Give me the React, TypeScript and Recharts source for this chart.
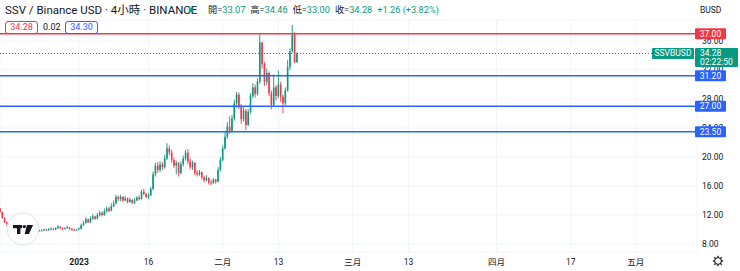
import React from 'react';
import { ComposedChart, Bar, XAxis, YAxis, CartesianGrid, ReferenceLine } from 'recharts';

// Candle times: day offset from 2023-01-01, one candle every half day
const START_DAY = -17;
const STEP_DAYS = 0.5;
const FIRST_OPEN = 12.9;

const closes = [
  12.4, 11.6, 11.0, 10.7, 10.5, 10.3, 10.4, 10.2, 10.1, 10.3, 10.2, 10.0, 10.1, 10.0, 9.9, 10.0, 9.9, 9.8,
  9.9, 10.0, 9.9, 10.0, 10.1, 10.0, 10.2, 10.4, 10.2, 10.1, 10.2, 10.3, 10.1, 10.0, 9.9, 10.0,
  10.1, 10.6, 10.9, 11.4, 11.0, 11.5, 11.8, 11.5, 12.0, 12.3, 12.0, 12.5, 12.9, 12.6, 13.2, 13.6,
  14.5, 14.2, 14.5, 14.0, 14.3, 13.8, 14.1, 13.7, 14.0, 14.4, 14.2, 15.2, 14.9, 14.5, 14.7, 15.6,
  17.6, 18.8, 18.2, 19.0, 18.6, 19.8, 21.2, 20.6, 19.6, 18.8, 19.2, 17.8, 19.0, 19.8, 20.6, 19.4,
  18.6, 19.2, 17.8, 17.6, 17.9, 17.2, 16.8, 17.1, 16.5, 16.4, 16.9, 16.6, 18.2, 19.6, 21.2, 22.8,
  24.2, 23.6, 25.3, 27.4, 28.6, 27.0, 25.2, 26.4, 24.4, 26.2, 28.4, 29.6, 28.7, 30.4, 35.8, 32.8,
  30.4, 31.6, 28.8, 27.2, 29.6, 28.4, 30.0, 28.3, 27.4, 29.2, 32.4, 34.6, 36.9, 33.07, 34.28,
];
const highs = [
  13.0, 12.5, 11.7, 11.1, 10.8, 10.6, 10.6, 10.5, 10.3, 10.4, 10.4, 10.3, 10.2, 10.2, 10.1, 10.1, 10.1, 10.0,
  10.0, 10.1, 10.1, 10.2, 10.3, 10.2, 10.3, 10.6, 10.4, 10.3, 10.3, 10.5, 10.3, 10.2, 10.1, 10.1,
  10.3, 10.8, 11.2, 11.7, 11.5, 11.8, 12.1, 11.9, 12.3, 12.6, 12.5, 12.9, 13.2, 13.1, 13.6, 14.0,
  14.8, 14.7, 14.8, 14.6, 14.6, 14.4, 14.4, 14.2, 14.3, 14.6, 14.7, 15.5, 15.6, 15.0, 15.0, 15.9,
  18.0, 19.2, 19.3, 19.4, 19.3, 20.3, 21.9, 21.6, 21.0, 19.9, 19.5, 19.3, 19.4, 20.2, 21.0, 21.1,
  19.8, 19.5, 19.3, 18.2, 18.2, 18.0, 17.4, 17.5, 17.2, 16.9, 17.1, 17.0, 18.6, 20.0, 21.6, 23.5,
  24.8, 25.6, 25.8, 27.9, 29.0, 28.9, 27.3, 26.9, 26.6, 26.6, 28.8, 30.2, 30.0, 30.8, 36.9, 35.9,
  33.1, 32.2, 31.8, 29.2, 31.4, 29.9, 31.9, 30.4, 28.6, 29.6, 33.4, 35.0, 38.2, 37.2, 34.46,
];
const lows = [
  12.3, 11.5, 10.9, 10.5, 10.3, 10.1, 10.2, 10.0, 9.9, 10.0, 10.0, 9.9, 9.9, 9.8, 9.8, 9.8, 9.8, 9.7,
  9.7, 9.8, 9.8, 9.8, 9.9, 9.9, 9.9, 10.1, 10.0, 9.9, 10.0, 10.1, 9.9, 9.8, 9.8, 9.8,
  9.9, 10.0, 10.5, 10.8, 10.9, 10.9, 11.3, 11.3, 11.4, 11.8, 11.8, 11.9, 12.3, 12.4, 12.5, 13.1,
  13.5, 13.9, 13.9, 13.8, 13.9, 13.6, 13.7, 13.5, 13.5, 13.9, 14.0, 14.1, 14.7, 14.3, 14.2, 14.6,
  15.4, 17.3, 17.8, 17.9, 18.2, 18.4, 19.6, 20.2, 19.2, 18.5, 17.6, 17.3, 17.6, 18.7, 19.5, 19.0,
  18.3, 18.2, 17.5, 17.3, 17.4, 16.9, 16.5, 16.6, 16.2, 16.1, 16.3, 16.3, 16.5, 18.0, 19.4, 21.0,
  22.5, 23.2, 23.4, 25.0, 26.8, 26.6, 24.6, 24.9, 23.7, 24.3, 26.0, 28.1, 28.2, 28.5, 30.1, 32.2,
  29.8, 29.9, 28.4, 26.6, 27.0, 27.8, 28.1, 27.6, 26.0, 27.1, 29.0, 32.0, 34.4, 33.0, 33.0,
];

const xTicks = [0, 15, 31, 43, 59, 71, 90, 106, 120];
const xTickLabels = ['2023', '16', '二月', '13', '三月', '13', '四月', '17', '五月'];
const yTicks = [8, 12, 16, 20, 24, 28, 32, 36];
const redLevels = [37];
const blueLevels = [31.2, 27, 23.5];
const lastPrice = 34.28;
const countdown = '02:22:50';
const symbol = 'SSVBUSD';

const X_DOMAIN: [number, number] = [-17.03, 133.2];
const Y_DOMAIN: [number, number] = [6.8966, 38.8966];

const UP = '#089981';
const DOWN = '#F23645';
const RED = '#F23645';
const BLUE = '#2962FF';
const TEXT = '#131722';
const GRID = '#f2f4f8';
const FONT = 'Roboto, "Noto Sans CJK TC", sans-serif';

const data = closes.map((c, i) => ({
  t: START_DAY + i * STEP_DAYS,
  o: i === 0 ? FIRST_OPEN : closes[i - 1],
  c,
  h: highs[i],
  l: lows[i],
  range: [lows[i], highs[i]],
}));

const Candle = (props: any) => {
  const { x, y, width, height, payload } = props;
  if (!payload || x == null) return null;
  const { o, c, h, l } = payload;
  const yTop = Math.min(y, y + height);
  const yBot = Math.max(y, y + height);
  const span = h - l;
  const py = (p: number) => (span > 0 ? yTop + ((h - p) / span) * (yBot - yTop) : yTop);
  const cx = x + width / 2;
  const color = c >= o ? UP : DOWN;
  const bTop = py(Math.max(o, c));
  const bBot = py(Math.min(o, c));
  return (
    <g>
      <line x1={cx} x2={cx} y1={yTop} y2={yBot} stroke={color} strokeWidth={0.9} />
      <rect x={cx - 0.8} y={bTop} width={1.6} height={Math.max(0.8, bBot - bTop)} fill={color} />
    </g>
  );
};

const XTick = (props: any) => {
  const { x, y, payload } = props;
  const i = xTicks.indexOf(payload.value);
  return (
    <text x={x} y={y} dy={13} textAnchor="middle" fontSize={8.5} fontFamily={FONT}
      fontWeight={i === 0 ? 700 : 400} fill={TEXT}>
      {xTickLabels[i]}
    </text>
  );
};

const YTick = (props: any) => {
  const { x, y, payload } = props;
  return (
    <text x={x + 5} y={y} dy={3} textAnchor="start" fontSize={8.5} fontFamily={FONT} fill={TEXT}>
      {Number(payload.value).toFixed(2)}
    </text>
  );
};

const tagLabel = (value: number, color: string) => (p: any) => {
  const vb = p.viewBox || {};
  const x = vb.x + vb.width - 2;
  const y = vb.y;
  return (
    <g>
      <rect x={x} y={y - 5.5} width={31} height={11} fill={color} rx={1} />
      <text x={x + 15.5} y={y} dy={3} textAnchor="middle" fontSize={8.5} fontFamily={FONT} fill="#fff">
        {value.toFixed(2)}
      </text>
    </g>
  );
};

const lastLabel = (p: any) => {
  const vb = p.viewBox || {};
  const x = vb.x + vb.width - 2;
  const y = vb.y;
  return (
    <g>
      <rect x={x - 43} y={y - 5.5} width={42} height={11} fill={UP} rx={1} />
      <text x={x - 22} y={y} dy={3} textAnchor="middle" fontSize={8.5} fontFamily={FONT} fill="#fff">{symbol}</text>
      <rect x={x} y={y - 5.5} width={43} height={19} fill={UP} rx={1} />
      <text x={x + 5} y={y} dy={3} textAnchor="start" fontSize={8.5} fontFamily={FONT} fill="#fff">{lastPrice.toFixed(2)}</text>
      <text x={x + 5} y={y + 9} dy={3} textAnchor="start" fontSize={8.5} fontFamily={FONT} fill="#fff">{countdown}</text>
    </g>
  );
};

const Gear = () => (
  <svg width={12} height={12} viewBox="-6 -6 12 12" style={{ position: 'absolute', left: 712, top: 255 }}>
    {[0, 45, 90, 135, 180, 225, 270, 315].map((a) => (
      <line key={a} x1={0} y1={-3.2} x2={0} y2={-5.2} stroke={TEXT} strokeWidth={1.3} transform={`rotate(${a})`} />
    ))}
    <circle cx={0} cy={0} r={3.3} fill="#fff" stroke={TEXT} strokeWidth={1.1} />
  </svg>
);

const Logo = () => (
  <svg width={34} height={34} viewBox="0 0 34 34" style={{ position: 'absolute', left: 6, top: 212 }}>
    <circle cx={17} cy={17} r={16} fill="#fff" stroke="#e0e3eb" strokeWidth={1} />
    <rect x={7} y={13} width={9} height={3.2} fill="#131722" />
    <rect x={11} y={13} width={3.4} height={9} fill="#131722" />
    <circle cx={18.3} cy={14.6} r={1.7} fill="#131722" />
    <polygon points="21,13 27,13 23,22 18.6,22" fill="#131722" />
  </svg>
);

export default function App() {
  const green = { color: UP };
  const lbl = { color: TEXT, marginLeft: 5 };
  return (
    <div style={{ position: 'relative', width: 740, height: 271, background: '#fff', fontFamily: FONT, overflow: 'hidden' }}>
      <style>{'body{margin:0}'}</style>
      <ComposedChart width={740} height={271} data={data} margin={{ top: 20, right: 0, bottom: 0, left: 0 }}>
        <CartesianGrid stroke={GRID} strokeWidth={1} />
        <XAxis dataKey="t" type="number" domain={X_DOMAIN} allowDataOverflow ticks={xTicks}
          interval={0} height={19} axisLine={false} tickLine={false} tickSize={0} tickMargin={0} tick={<XTick />} />
        <YAxis orientation="right" type="number" domain={Y_DOMAIN} allowDataOverflow ticks={yTicks}
          interval={0} width={43} axisLine={false} tickLine={false} tickSize={0} tickMargin={0} tick={<YTick />} />
        <Bar dataKey="range" barSize={2} isAnimationActive={false} shape={<Candle />} />
      </ComposedChart>

      {/* overlay layer: price levels and tags drawn above the price scale */}
      <div style={{ position: 'absolute', left: 0, top: 0, pointerEvents: 'none' }}>
        <ComposedChart width={740} height={271} data={data} margin={{ top: 20, right: 43, bottom: 19, left: 0 }}>
          <XAxis dataKey="t" type="number" domain={X_DOMAIN} allowDataOverflow hide />
          <YAxis type="number" domain={Y_DOMAIN} allowDataOverflow hide />
          <ReferenceLine y={lastPrice} stroke={UP} strokeDasharray="1 2" strokeWidth={1} label={lastLabel} />
          {redLevels.map((v) => (
            <ReferenceLine key={'r' + v} y={v} stroke={RED} strokeWidth={1.5} label={tagLabel(v, RED)} />
          ))}
          {blueLevels.map((v) => (
            <ReferenceLine key={'b' + v} y={v} stroke={BLUE} strokeWidth={1.5} label={tagLabel(v, BLUE)} />
          ))}
        </ComposedChart>
      </div>

      <Logo />
      <Gear />

      <div style={{ position: 'absolute', left: 5, top: 3, fontSize: 11.5, color: TEXT, whiteSpace: 'nowrap', lineHeight: '14px' }}>
        SSV / Binance USD · 4小時 · BINANCE
      </div>
      <div style={{ position: 'absolute', left: 187, top: 6, width: 8, height: 8, borderRadius: 4, background: 'rgba(8,153,129,0.2)' }}>
        <div style={{ position: 'absolute', left: 2, top: 2, width: 4, height: 4, borderRadius: 2, background: UP }} />
      </div>
      <div style={{ position: 'absolute', left: 203, top: 4, fontSize: 9.2, whiteSpace: 'nowrap', lineHeight: '12px' }}>
        <span style={lbl}>開=</span><span style={green}>33.07</span>
        <span style={lbl}>高=</span><span style={green}>34.46</span>
        <span style={lbl}>低=</span><span style={green}>33.00</span>
        <span style={lbl}>收=</span><span style={green}>34.28</span>
        <span style={{ ...green, marginLeft: 5 }}>+1.26 (+3.82%)</span>
      </div>
      <div style={{ position: 'absolute', left: 700, top: 4, fontSize: 8.5, color: TEXT, lineHeight: '12px' }}>BUSD</div>

      <div style={{ position: 'absolute', left: 5, top: 21, width: 31, height: 11, border: `1px solid ${RED}`, borderRadius: 3,
        color: RED, fontSize: 9, lineHeight: '11px', textAlign: 'center', background: '#fff' }}>34.28</div>
      <div style={{ position: 'absolute', left: 43, top: 22, fontSize: 9, lineHeight: '11px', color: TEXT }}>0.02</div>
      <div style={{ position: 'absolute', left: 65, top: 21, width: 31, height: 11, border: `1px solid ${BLUE}`, borderRadius: 3,
        color: BLUE, fontSize: 9, lineHeight: '11px', textAlign: 'center', background: '#fff' }}>34.30</div>
    </div>
  );
}
